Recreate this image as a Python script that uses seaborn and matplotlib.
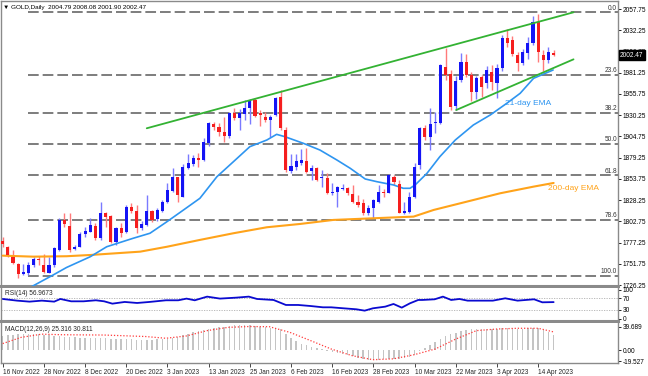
import numpy as np
import pandas as pd
import matplotlib
matplotlib.use("Agg")
import matplotlib.pyplot as plt
import matplotlib.transforms as mtransforms
import seaborn as sns

# ---------------- data ----------------
dates = pd.bdate_range("2022-11-16", "2023-04-19").drop(
    pd.to_datetime(["2022-12-26", "2023-01-02", "2023-04-07"]))

opens = [1779.5, 1772.2, 1760.2, 1751.5, 1739.5, 1740.3, 1750.3, 1757.5, 1750.3, 1741.0,
         1750.3, 1768.3, 1804.3, 1797.1, 1769.1, 1772.2, 1787.1, 1790.3, 1797.1, 1782.7,
         1812.4, 1809.1, 1778.3, 1794.4, 1790.3, 1819.6, 1815.5, 1794.4, 1798.3, 1815.1,
         1805.2, 1815.5, 1826.3, 1839.5, 1855.6, 1832.3, 1866.4, 1871.6, 1878.4, 1876.4,
         1897.2, 1919.3, 1916.4, 1910.4, 1905.2, 1932.5, 1927.2, 1931.6, 1938.5, 1948.5,
         1932.5, 1927.7, 1924.4, 1930.4, 1951.7, 1912.4, 1863.5, 1867.6, 1873.1, 1875.2,
         1863.2, 1866.4, 1854.8, 1854.4, 1837.1, 1838.3, 1841.2, 1842.4, 1835.2, 1826.3,
         1824.4, 1812.4, 1818.4, 1826.3, 1838.3, 1837.1, 1856.3, 1847.6, 1812.4, 1813.6,
         1832.3, 1870.0, 1914.5, 1904.4, 1920.5, 1920.5, 1988.5, 1979.7, 1941.0, 1972.5,
         1994.0, 1978.5, 1958.0, 1976.1, 1968.9, 1982.1, 1968.9, 1986.9, 2022.9, 2020.0,
         2003.0, 1992.9, 2004.9, 2017.0, 2042.0, 2002.5, 1996.5, 2004.79]
highs = [1784.3, 1773.1, 1768.3, 1752.7, 1751.1, 1754.2, 1759.5, 1761.4, 1763.1, 1760.2,
         1771.5, 1806.4, 1812.4, 1812.4, 1774.3, 1790.3, 1796.3, 1806.4, 1800.4, 1826.3,
         1814.3, 1810.3, 1796.3, 1800.4, 1822.3, 1824.4, 1822.3, 1803.5, 1834.4, 1816.3,
         1818.4, 1828.4, 1848.4, 1867.1, 1856.3, 1871.6, 1883.2, 1882.4, 1884.4, 1902.5,
         1922.4, 1922.4, 1920.5, 1928.4, 1934.4, 1938.5, 1937.3, 1948.5, 1949.3, 1950.5,
         1936.4, 1934.4, 1930.4, 1952.4, 1960.5, 1916.4, 1883.6, 1883.6, 1889.2, 1890.4,
         1870.4, 1868.3, 1864.4, 1860.4, 1848.4, 1845.2, 1847.2, 1844.3, 1846.4, 1834.4,
         1829.2, 1822.3, 1829.2, 1846.4, 1841.2, 1859.2, 1858.4, 1852.4, 1826.3, 1838.3,
         1873.1, 1916.0, 1918.4, 1938.5, 1934.4, 1991.7, 2010.9, 1984.5, 1977.0, 2004.9,
         2004.0, 1982.1, 1977.0, 1978.0, 1989.0, 1990.0, 1992.0, 2027.0, 2034.0, 2025.0,
         2006.0, 2010.0, 2024.0, 2049.0, 2052.0, 2008.0, 2012.0, 2008.08]
lows = [1772.2, 1760.2, 1751.1, 1734.3, 1738.3, 1738.3, 1748.2, 1750.3, 1741.0, 1740.3,
        1748.2, 1767.5, 1796.3, 1766.3, 1768.3, 1771.5, 1784.3, 1790.3, 1780.3, 1780.3,
        1796.3, 1776.3, 1774.3, 1784.3, 1788.4, 1812.4, 1788.4, 1792.3, 1797.1, 1802.3,
        1803.5, 1814.3, 1825.1, 1838.3, 1826.3, 1831.6, 1865.2, 1869.2, 1868.3, 1875.5,
        1893.2, 1912.4, 1905.2, 1898.4, 1902.5, 1924.4, 1912.4, 1924.4, 1919.6, 1927.7,
        1917.2, 1922.4, 1904.4, 1929.2, 1912.4, 1862.3, 1860.4, 1864.4, 1870.4, 1860.4,
        1852.4, 1851.5, 1844.3, 1835.2, 1834.4, 1820.3, 1840.3, 1834.4, 1824.4, 1820.3,
        1810.3, 1810.3, 1806.4, 1824.4, 1832.3, 1836.4, 1846.4, 1812.4, 1811.5, 1812.4,
        1830.4, 1866.0, 1901.0, 1888.4, 1908.5, 1919.6, 1972.5, 1936.4, 1936.0, 1970.1,
        1976.0, 1947.0, 1950.0, 1952.0, 1963.0, 1960.0, 1951.0, 1983.0, 2012.0, 2001.0,
        1983.0, 1991.0, 1998.0, 2014.0, 1994.0, 1983.0, 1993.0, 2001.90]
closes = [1775.5, 1762.3, 1752.3, 1739.5, 1741.5, 1750.3, 1757.1, 1756.5, 1742.2, 1750.3,
          1770.3, 1804.3, 1799.5, 1768.3, 1772.2, 1787.1, 1791.1, 1798.3, 1782.3, 1812.4,
          1808.3, 1778.3, 1794.4, 1788.4, 1819.6, 1815.5, 1794.4, 1799.5, 1815.5, 1804.3,
          1816.3, 1826.3, 1840.3, 1855.6, 1834.4, 1867.6, 1873.1, 1878.4, 1876.4, 1898.4,
          1921.2, 1916.4, 1910.4, 1905.2, 1933.2, 1927.2, 1932.5, 1938.5, 1948.5, 1929.4,
          1930.4, 1924.4, 1928.4, 1950.5, 1914.5, 1864.4, 1869.2, 1875.2, 1876.4, 1862.3,
          1867.1, 1852.4, 1855.1, 1836.4, 1838.3, 1844.3, 1842.4, 1836.4, 1826.3, 1822.3,
          1812.4, 1818.4, 1828.4, 1837.6, 1837.1, 1858.4, 1850.3, 1813.1, 1815.5, 1832.3,
          1868.3, 1914.5, 1904.4, 1919.6, 1922.4, 1990.5, 1978.8, 1940.6, 1971.0, 1994.1,
          1978.0, 1958.4, 1975.0, 1964.1, 1984.5, 1970.1, 1986.9, 2022.9, 2016.9, 2004.0,
          1993.0, 2006.1, 2016.9, 2042.0, 2006.0, 1996.5, 2006.1, 2002.47]

ema21_idx = [5.6, 9.8, 12.4, 17.0, 20.2, 25.3, 28.6, 31.9, 35.1, 38.3, 41.6, 44.8, 48.0, 51.3,
             53.2, 54.8, 58.4, 61.6, 64.9, 67.5, 70.4, 72.7, 75.9, 77.8, 79.1, 80.1, 82.4,
             84.9, 87.9, 91.4, 94.7, 97.9, 100.5, 103.1, 106.9]
ema21_val = [1724.2, 1738.3, 1747.3, 1760.2, 1772.2, 1782.3, 1788.4, 1802.3, 1816.3, 1830.4,
             1856.3, 1874.3, 1892.4, 1900.4, 1907.2, 1904.4, 1896.4, 1888.4, 1876.4, 1866.4,
             1853.6, 1850.3, 1846.4, 1842.4, 1842.4, 1846.4, 1860.4, 1880.4, 1900.4, 1918.4,
             1930.5, 1944.5, 1956.5, 1974.5, 1984.5]
ema200_idx = [0, 5.9, 12.4, 17.0, 26.7, 31.9, 38.3, 44.8, 51.3, 57.8, 64.2, 72.0, 79.8,
              83.7, 90.1, 96.6, 103.1, 107.0]
ema200_val = [1761.5, 1760.3, 1760.8, 1762.3, 1766.3, 1772.2, 1780.4, 1788.4, 1795.6,
              1799.6, 1804.4, 1806.4, 1808.4, 1816.4, 1826.3, 1836.4, 1844.4, 1848.8]

fib_high, fib_low, fib_start = 2053.8, 1737.1, 4.9
fib_levels = [0.0, 23.6, 38.2, 50.0, 61.8, 78.6, 100.0]
resist_idx, resist_val = [27.98, 110.86], [1914.5, 2053.8]
support_idx, support_val = [88.07, 110.86], [1936.4, 1997.3]

rsi_idx = [0, 2.8, 5.2, 7.6, 10, 11.2, 13.3, 15.7, 18.1, 19.7, 21.3, 23.7, 26.1, 28.5, 31.7,
           34.1, 35.7, 37.3, 39.7, 42.2, 45.4, 47.8, 49.4, 52.6, 55, 57.4, 59.8, 62.2, 63.8,
           66.2, 68.7, 70.3, 71.9, 74.3, 75.9, 77.5, 79.1, 80.7, 81.5, 83.9, 85.5, 87.1,
           88.7, 90.3, 92.7, 95.2, 97.6, 100, 101.6, 103.2, 104.8, 107]
rsi_val = [67.7, 62, 58.6, 62, 58.6, 67.7, 59.7, 59.7, 63.2, 59.7, 51.7, 57.5, 54, 57.5, 63.2,
           63.2, 68.9, 63.2, 75.7, 69, 72.3, 75.7, 67.7, 64.3, 47.2, 47.2, 43.6, 39.2, 39.2,
           35.8, 32.4, 27.8, 35.8, 41.5, 50.6, 38.1, 52.9, 64.3, 64.3, 66.6, 75.7, 64.3,
           67.7, 62, 62, 62, 70, 62, 64.3, 66.6, 56.3, 57.0]

macd_hist = [24, 25, 26, 27, 28, 28, 28, 27, 26, 25, 24, 24, 23, 22, 22, 21, 21, 21, 20, 20,
             20, 19, 19, 18, 18, 18, 17, 17, 17, 17, 18, 18, 19, 21, 22, 25, 28, 30, 32, 34,
             36, 38, 39, 40, 41, 42, 42, 42, 42, 41, 40, 39, 37, 37, 36, 28, 20, 15, 11, 8,
             5, 3, 1, -1, -3, -5, -7, -9, -11, -13, -15, -17, -17, -17, -16, -16, -15, -15,
             -13, -12, -8, -2, 4, 9, 14, 19, 24, 27, 29, 32, 34, 35, 35, 35, 35, 35, 36, 37,
             37, 37, 36, 36, 37, 38, 38, 34, 31, 25.316]
signal_idx = [0, 3.6, 7.6, 11.6, 19.7, 27.7, 31.7, 35.7, 39.7, 43.8, 47.8, 51.8, 55.8, 59.8,
              63.8, 67.9, 71.9, 75.9, 79.9, 84, 88, 92, 96, 100, 104, 107]
signal_val = [11, 21.6, 27, 26, 25.5, 23, 20, 24, 33, 38.6, 40, 39.7, 30, 16, 1.7, -9.7,
              -16.5, -15, -8, 1.7, 18.7, 33, 35.8, 37, 37, 30.811]

price_ticks = [2057.75, 2032.25, 2006.75, 1981.25, 1955.75, 1930.25, 1904.75, 1879.25,
               1853.75, 1828.25, 1802.75, 1777.25, 1751.75, 1726.25]
date_tick_idx = list(range(0, 105, 8))
date_tick_labels = ["16 Nov 2022", "28 Nov 2022", "8 Dec 2022", "20 Dec 2022", "3 Jan 2023",
                    "13 Jan 2023", "25 Jan 2023", "6 Feb 2023", "16 Feb 2023", "28 Feb 2023",
                    "10 Mar 2023", "22 Mar 2023", "3 Apr 2023", "14 Apr 2023"]

# ---------------- style ----------------
sns.set_style("white")
plt.rcParams['font.family'] = ['Liberation Sans', 'DejaVu Sans']
FS = 4.7

W, H = 648, 376
fig = plt.figure(figsize=(W / 100, H / 100), dpi=100)
fig.patch.set_facecolor("white")

def frac(x0, y0, x1, y1):
    return [x0 / W, 1 - y1 / H, (x1 - x0) / W, (y1 - y0) / H]

ax = fig.add_axes(frac(1, 1, 618, 286))
ax_r = fig.add_axes(frac(1, 288, 618, 321))
ax_m = fig.add_axes(frac(1, 323, 618, 362.7))

XL = (-0.33, 119.5)
for a in (ax, ax_r, ax_m):
    a.set_xlim(*XL)
    a.set_facecolor("white")
    for s in a.spines.values():
        s.set_color("#8a8a8a")
        s.set_linewidth(1.0)
    a.yaxis.tick_right()
    a.tick_params(axis="y", labelsize=FS, length=2, width=0.6, pad=1.2, colors="black")
    a.tick_params(axis="x", bottom=False, labelbottom=False)
ax.spines["bottom"].set_linewidth(2.2)
ax_r.spines["bottom"].set_linewidth(2.2)
ax_r.spines["top"].set_linewidth(0)
ax_m.spines["top"].set_linewidth(0)

# ---------------- price panel ----------------
ax.set_ylim(1725.05, 2067.36)
x = np.arange(len(dates))
o, h, l, c = map(np.array, (opens, highs, lows, closes))
up = c >= o
wick_cols = np.where(up, "#7a7aff", "#ff7a7a")
body_cols = np.where(up, "#1414f5", "#f51e1e")
ax.vlines(x, l, h, colors=wick_cols, linewidth=1.0, zorder=3)
ax.bar(x, np.maximum(np.abs(c - o), 0.9), bottom=np.minimum(o, c), width=0.6,
       color=body_cols, linewidth=0, zorder=4)

# fibonacci levels
for lv in fib_levels:
    val = fib_high - (fib_high - fib_low) * lv / 100
    ax.plot([fib_start, XL[1]], [val, val], color="#5a5a5a", lw=1.1,
            ls=(0, (7, 2.6)), zorder=2)
    ax.text(XL[1] - 0.2, val + 0.8, f"{lv:.1f}", ha="right", va="bottom",
            fontsize=FS, color="#333333", zorder=5)

sns.lineplot(x=ema200_idx, y=ema200_val, ax=ax, color="#ffa31a", lw=1.5,
             estimator=None, sort=False, zorder=3)
sns.lineplot(x=ema21_idx, y=ema21_val, ax=ax, color="#2e95f0", lw=1.2,
             estimator=None, sort=False, zorder=3)
ax.plot(resist_idx, resist_val, color="#33b233", lw=1.3, zorder=5)
ax.plot(support_idx, support_val, color="#33b233", lw=1.3, zorder=5)

ax.text(97.6, 1944.2, "21-day EMA", color="#2e95f0", fontsize=6.0, va="center", ha="left")
ax.text(106.0, 1842.2, "200-day EMA", color="#ffa31a", fontsize=6.0, va="center", ha="left")

ax.set_yticks(price_ticks)
ax.set_yticklabels([f"{t:.2f}" for t in price_ticks])
ax.set_xlabel("")
ax.set_ylabel("")

trans = mtransforms.blended_transform_factory(ax.transAxes, ax.transData)
ax.text(1.003, closes[-1], f"{closes[-1]:.2f}", transform=trans, fontsize=FS, color="white",
        va="center", ha="left", zorder=10, clip_on=False,
        bbox=dict(boxstyle="square,pad=0.18", fc="black", ec="black"))

fig.text(3 / W, 1 - 7 / H, "\u25bc GOLD,Daily  2004.79 2008.08 2001.90 2002.47",
         fontsize=4.6, va="center", ha="left", color="black")

# ---------------- RSI panel ----------------
ax_r.set_ylim(-7.6, 105.2)
ax_r.axhline(70, color="#b0b0b0", lw=0.6, ls=(0, (1.5, 1.5)))
ax_r.axhline(30, color="#b0b0b0", lw=0.6, ls=(0, (1.5, 1.5)))
sns.lineplot(x=rsi_idx, y=rsi_val, ax=ax_r, color="#0a0ad0", lw=1.3,
             estimator=None, sort=False)
ax_r.set_yticks([100, 70, 30, 0])
ax_r.set_yticklabels(["100", "70", "30", "0"])
ax_r.text(0.006, 0.93, "RSI(14) 56.9673", transform=ax_r.transAxes, fontsize=FS,
          va="top", ha="left")
ax_r.set_xlabel("")
ax_r.set_ylabel("")

# ---------------- MACD panel ----------------
ax_m.set_ylim(-21.6, 46.0)
ax_m.bar(x, macd_hist, width=0.28, color="#c4c4c4", linewidth=0)
sns.lineplot(x=signal_idx, y=signal_val, ax=ax_m, color="#ff3b3b", lw=0.9,
             estimator=None, sort=False)
ax_m.lines[-1].set_linestyle((0, (1, 1.5)))
ax_m.set_yticks([39.689, 0.0, -19.527])
ax_m.set_yticklabels(["39.689", "0.00", "-19.527"])
ax_m.text(0.006, 0.93, "MACD(12,26,9) 25.316 30.811", transform=ax_m.transAxes, fontsize=FS,
          va="top", ha="left")
ax_m.set_xticks(date_tick_idx)
ax_m.set_xticklabels(date_tick_labels, ha="left")
ax_m.tick_params(axis="x", bottom=True, labelbottom=True, labelsize=FS, length=3,
                 width=0.6, pad=1.5)
ax_m.set_xlabel("")
ax_m.set_ylabel("")

fig.savefig("out.png", dpi=100, facecolor="white")
